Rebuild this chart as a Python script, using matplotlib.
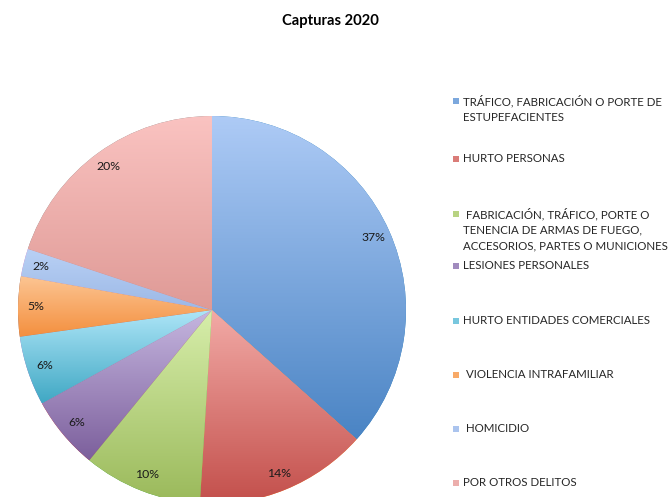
import numpy as np
import matplotlib
matplotlib.use('Agg')
import matplotlib.pyplot as plt
import matplotlib.colors as mcolors
from matplotlib.patches import Rectangle

# slices, clockwise from 12 o'clock
categories = ['TRÁFICO, FABRICACIÓN O PORTE DE\nESTUPEFACIENTES',
              'HURTO PERSONAS',
              ' FABRICACIÓN, TRÁFICO, PORTE O\nTENENCIA DE ARMAS DE FUEGO,\nACCESORIOS, PARTES O MUNICIONES',
              'LESIONES PERSONALES',
              'HURTO ENTIDADES COMERCIALES',
              ' VIOLENCIA INTRAFAMILIAR',
              ' HOMICIDIO',
              'POR OTROS DELITOS']
shares = [36.6, 14.4, 9.9, 6.1, 5.8, 5.0, 2.3, 19.9]
top_colors = ['#aecbf6', '#f2aaa6', '#d7eeab', '#c6b7e0', '#afe6f8', '#fcc593', '#b9d1f5', '#fac3c1']
bottom_colors = ['#4a84c4', '#c34f4b', '#9ab95a', '#7c5f9c', '#40a8c4', '#f48f3e', '#9cb8e6', '#df9a96']

FONT = 'Lato'
W, H = 670, 497
fig = plt.figure(figsize=(W/100, H/100), dpi=100)

# pie: centre ~ (212, 310) px, radius ~194 px
cx, cy, r = 212, 310, 194
ax = fig.add_axes([(cx-r)/W, (H-cy-r)/H, 2*r/W, 2*r/H])
wedges, texts, autotexts = ax.pie(shares, startangle=90, counterclock=False, radius=1,
                                  autopct='%1.0f%%', pctdistance=0.91,
                                  wedgeprops=dict(linewidth=0),
                                  textprops=dict(fontsize=8.8, family=FONT, color='#1a1a1a'))
# vertical gradient inside each slice (light top -> darker bottom)
for w, c0, c1 in zip(wedges, top_colors, bottom_colors):
    bb = w.get_path().get_extents()
    cm = mcolors.LinearSegmentedColormap.from_list('g', [c0, c1])
    im = ax.imshow(np.linspace(0, 1, 256)[:, None], cmap=cm, origin='upper', aspect='auto',
                   extent=[bb.x0, bb.x1, bb.y0, bb.y1], interpolation='bilinear', zorder=1.5)
    im.set_clip_path(w)
for t in autotexts:
    t.set_zorder(5)
ax.set_xlim(-1, 1); ax.set_ylim(-1, 1)
ax.axis('off')

fig.text(330/W, 1-21/H, 'Capturas 2020', ha='center', va='center',
         fontsize=10.6, fontweight='bold', family=FONT)

# legend, placed by hand like the Excel original
leg_y = [101, 159, 214, 266, 321, 375, 429, 483]
for lab, y, c0, c1 in zip(categories, leg_y, top_colors, bottom_colors):
    mid = mcolors.to_hex((np.array(mcolors.to_rgb(c0)) + np.array(mcolors.to_rgb(c1))) / 2)
    fig.patches.append(Rectangle((453/W, 1-(y+3)/H), 6/W, 6/H, transform=fig.transFigure,
                                 facecolor=mid, edgecolor='none'))
    fig.text(463/W, 1-(y-6)/H, lab, ha='left', va='top', fontsize=8.3, family=FONT,
             color='#262626', linespacing=1.48)

fig.savefig('out.png', dpi=100)
